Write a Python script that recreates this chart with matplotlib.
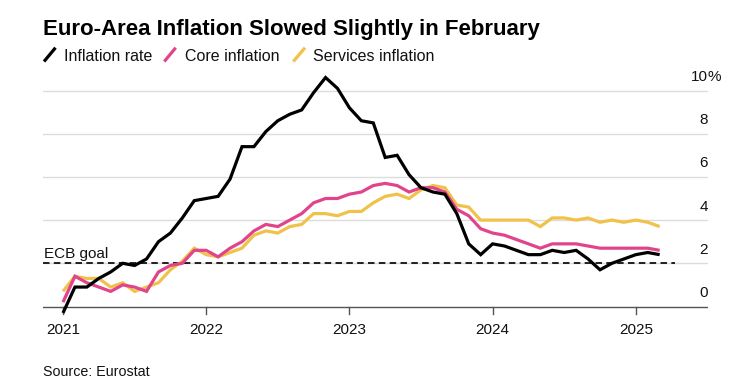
import matplotlib
matplotlib.use("Agg")
import matplotlib.pyplot as plt
from matplotlib.lines import Line2D
import numpy as np

# ---- data (monthly, Dec 2020 .. Feb 2025), annual % change ----
headline = [-0.3,
            0.9, 0.9, 1.3, 1.6, 2.0, 1.9, 2.2, 3.0, 3.4, 4.1, 4.9, 5.0,
            5.1, 5.9, 7.4, 7.4, 8.1, 8.6, 8.9, 9.1, 9.9, 10.6, 10.1, 9.2,
            8.6, 8.5, 6.9, 7.0, 6.1, 5.5, 5.3, 5.2, 4.3, 2.9, 2.4, 2.9,
            2.8, 2.6, 2.4, 2.4, 2.6, 2.5, 2.6, 2.2, 1.7, 2.0, 2.2, 2.4,
            2.5, 2.4]
core = [0.2,
        1.4, 1.1, 0.9, 0.7, 1.0, 0.9, 0.7, 1.6, 1.9, 2.0, 2.6, 2.6,
        2.3, 2.7, 3.0, 3.5, 3.8, 3.7, 4.0, 4.3, 4.8, 5.0, 5.0, 5.2,
        5.3, 5.6, 5.7, 5.6, 5.3, 5.5, 5.5, 5.3, 4.5, 4.2, 3.6, 3.4,
        3.3, 3.1, 2.9, 2.7, 2.9, 2.9, 2.9, 2.8, 2.7, 2.7, 2.7, 2.7,
        2.7, 2.6]
services = [0.7,
            1.4, 1.3, 1.3, 0.9, 1.1, 0.7, 0.9, 1.1, 1.7, 2.1, 2.7, 2.4,
            2.3, 2.5, 2.7, 3.3, 3.5, 3.4, 3.7, 3.8, 4.3, 4.3, 4.2, 4.4,
            4.4, 4.8, 5.1, 5.2, 5.0, 5.4, 5.6, 5.5, 4.7, 4.6, 4.0, 4.0,
            4.0, 4.0, 4.0, 3.7, 4.1, 4.1, 4.0, 4.1, 3.9, 4.0, 3.9, 4.0,
            3.9, 3.7]
# month-end positions in decimal years (Dec 2020 end = 2021.0)
months = 2021.0 + np.arange(len(headline)) / 12.0
year_ticks = [2021, 2022, 2023, 2024, 2025]
y_ticks = [0, 2, 4, 6, 8, 10]
y_labels = ["0", "2", "4", "6", "8", "10"]
ecb_goal = 2.0

names = ["Inflation rate", "Core inflation", "Services inflation"]
colors = ["#000000", "#e0458c", "#f0c24a"]

W, H = 743, 388
fig = plt.figure(figsize=(W / 100, H / 100), dpi=100)
plt.rcParams["font.family"] = ["Liberation Sans", "DejaVu Sans"]

def fx(px):
    return px / W

def fy(py):
    return 1 - py / H

# axes geometry (pixels)
left_px, right_px = 43, 708
px_per_year = 143.2
x0_px = 63.0  # 2021.0
ppu = 21.6    # px per 1 %
zero_px = 306.5
ymin, ymax = -0.6, 10.8
bottom_px = zero_px + (0 - ymin) * ppu
top_px = zero_px - ymax * ppu
ax = fig.add_axes([fx(left_px), fy(bottom_px), fx(right_px - left_px),
                   (bottom_px - top_px) / H])
xlo = 2021.0 - (x0_px - left_px) / px_per_year
xhi = 2021.0 + (right_px - x0_px) / px_per_year
ax.set_xlim(xlo, xhi)
ax.set_ylim(ymin, ymax)
ax.patch.set_alpha(0)
for s in ax.spines.values():
    s.set_visible(False)
ax.set_yticks([])
ax.set_xticks([])

# gridlines
for v in y_ticks[1:]:
    ax.axhline(v, color="#dcdcdc", lw=1.0, zorder=1)
ax.axhline(0, color="#555555", lw=1.0, zorder=1)

# year ticks and labels
for yr in year_ticks:
    ax.plot([yr, yr], [0, 0], alpha=0)
    ax.annotate("", xy=(yr, 0), xytext=(0, 0))
    ax.add_line(Line2D([yr, yr], [0, -7 / ppu], color="#555555", lw=1.0,
                       clip_on=False, zorder=1))
    ax.annotate(str(yr), xy=(yr, 0), xytext=(0, -28 * 0.72),
                textcoords="offset points", ha="center", va="baseline",
                fontsize=11, color="#111111", annotation_clip=False)

# y labels on right
for v, lab in zip(y_ticks, y_labels):
    ax.annotate(lab, xy=(xhi, v), xytext=(0, 9.5 * 0.72),
                textcoords="offset points", ha="right", va="baseline",
                fontsize=11, color="#111111", annotation_clip=False)
    if v == 10:
        ax.annotate("%", xy=(xhi, v), xytext=(0, 9.5 * 0.72),
                    textcoords="offset points", ha="left", va="baseline",
                    fontsize=11, color="#111111", annotation_clip=False)

# ECB goal dashed line
ecb_end = 2025.0 + (675 - 635.5) / px_per_year
ax.plot([xlo, ecb_end], [ecb_goal, ecb_goal], color="#111111", lw=1.3,
        ls=(0, (3.6, 2.4)), zorder=2)
ax.annotate("ECB goal", xy=(xlo, ecb_goal), xytext=(1 * 0.72, 5.5 * 0.72),
            textcoords="offset points", ha="left", va="baseline",
            fontsize=11, color="#111111")

# series (draw order: services, core, headline on top)
for series, c, z in [(services, colors[2], 3), (core, colors[1], 4),
                     (headline, colors[0], 5)]:
    ax.plot(months, series, color=c, lw=2.3, zorder=z, clip_on=False,
            solid_joinstyle="miter", solid_capstyle="butt")

# title
fig.text(fx(43), fy(35), "Euro-Area Inflation Slowed Slightly in February",
         fontsize=16, fontweight="bold", ha="left", va="baseline",
         color="#000000")

# legend
slashes = [(44, 55.5), (164.3, 175.7), (293.3, 305)]
text_x = [64, 185, 312.7]
for (xa, xb), tx, name, c in zip(slashes, text_x, names, colors):
    fig.add_artist(Line2D([fx(xa), fx(xb)], [fy(61.5), fy(47.7)],
                          color=c, lw=2.3, transform=fig.transFigure,
                          solid_capstyle="butt"))
    fig.text(fx(tx), fy(61), name, fontsize=11.5, ha="left",
             va="baseline", color="#111111")

# source
fig.text(fx(43), fy(376), "Source: Eurostat", fontsize=10.3, ha="left",
         va="baseline", color="#111111")

fig.savefig("out.png", dpi=100)
